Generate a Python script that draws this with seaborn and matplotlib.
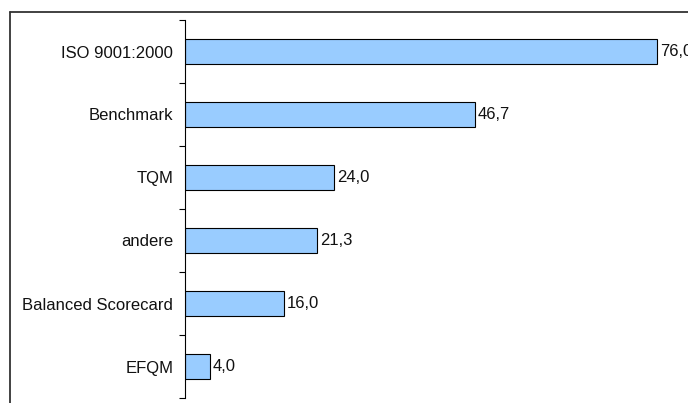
import matplotlib
matplotlib.use("Agg")
import matplotlib.pyplot as plt
from matplotlib.lines import Line2D
import seaborn as sns
import pandas as pd

categories = ["ISO 9001:2000", "Benchmark", "TQM", "andere", "Balanced Scorecard", "EFQM"]
values = [76.0, 46.7, 24.0, 21.3, 16.0, 4.0]

sns.set_style("white")
plt.rcParams["font.family"] = ["Liberation Sans", "DejaVu Sans"]

df = pd.DataFrame({"cat": categories, "val": values})

fig = plt.figure(figsize=(6.88, 4.03), dpi=100)
ax = fig.add_axes([185 / 688, 1 - 398 / 403, 497 / 688, 378 / 403])

sns.barplot(data=df, x="val", y="cat", orient="h", color="#99CCFF",
            saturation=1, width=0.4, edgecolor="black", linewidth=0.8, ax=ax)

ax.set_xlim(0, 80)
ax.set_ylim(len(categories) - 0.5, -0.5)
ax.set_xlabel("")
ax.set_ylabel("")
ax.set_xticks([])
for s in ["top", "right", "bottom"]:
    ax.spines[s].set_visible(False)
ax.spines["left"].set_color("black")
ax.spines["left"].set_linewidth(0.8)

ax.tick_params(axis="y", which="major", left=False, length=0, pad=8.5,
               labelsize=12, labelcolor="#111111")
ax.set_yticks([i - 0.5 for i in range(len(categories) + 1)], minor=True)
ax.tick_params(axis="y", which="minor", left=True, length=4, width=0.8,
               color="black", direction="out")

for i, v in enumerate(values):
    ax.text(v + 0.45, i, f"{v:.1f}".replace(".", ","), va="center", ha="left",
            fontsize=12, color="#111111")

# outer frame (partially cropped)
fx = 9.5 / 688
fy = 1 - 11.5 / 403
fig.add_artist(Line2D([fx, fx], [0, fy], transform=fig.transFigure, color="#333333", lw=1.3))
fig.add_artist(Line2D([fx, 1], [fy, fy], transform=fig.transFigure, color="#333333", lw=1.3))

fig.savefig("out.png", dpi=100)
